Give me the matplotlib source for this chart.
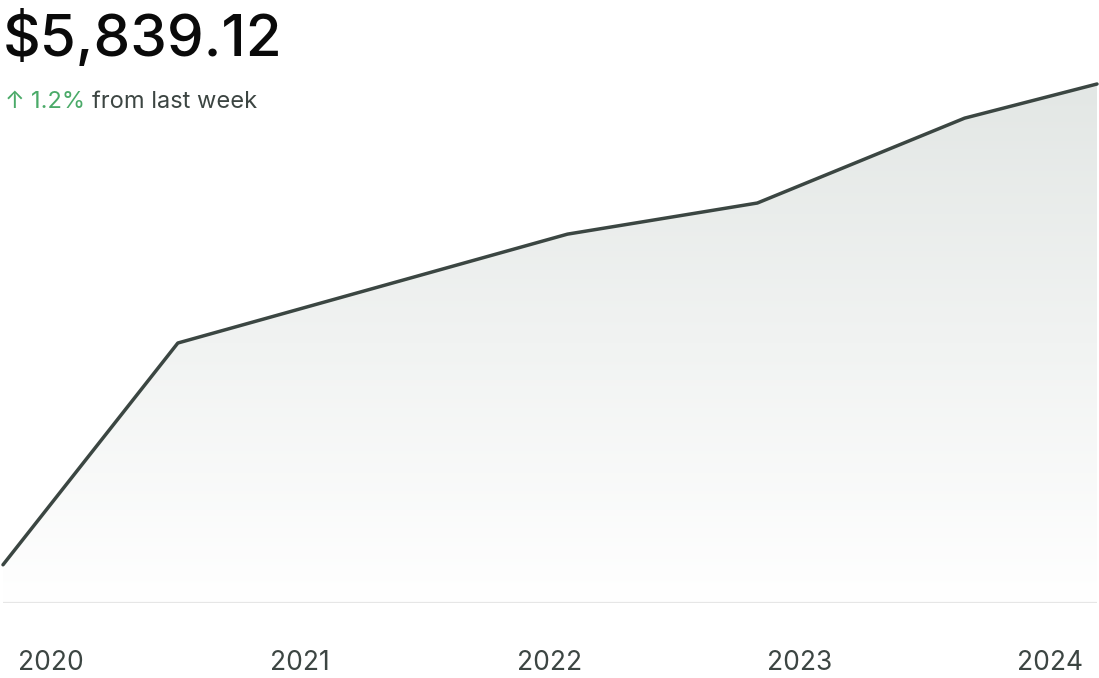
import matplotlib.pyplot as plt
import numpy as np
from matplotlib.patches import Polygon

# data (decimal years, value)
years = [2019.81, 2020.51, 2022.07, 2022.83, 2023.66, 2024.19]
values = [430, 2925, 4150, 4500, 5455, 5839.12]
tick_years = [2020, 2021, 2022, 2023, 2024]
tick_labels = ["2020", "2021", "2022", "2023", "2024"]

LINE = "#3b4642"
TEXT = "#3c4542"
GREEN = "#4aaa68"
FONT = ["Inter", "DejaVu Sans"]

fig = plt.figure(figsize=(10.99, 6.78), dpi=100)
W, H = 1099, 678
ax = fig.add_axes([3 / W, 75 / H, 1094 / W, (603 - 84) / H])
ax.set_xlim(years[0], years[-1])
ax.set_ylim(0, max(values))

# gradient fill under the line
grad = np.linspace(1, 0, 256).reshape(-1, 1)
top = np.array([0xe3, 0xe7, 0xe5]) / 255
img = np.ones((256, 1, 3)) * (1 - grad[..., None]) + top * grad[..., None]
im = ax.imshow(img, extent=[years[0], years[-1], 0, max(values)],
               aspect="auto", origin="upper", zorder=1)
poly = Polygon(list(zip(years, values)) + [(years[-1], 0), (years[0], 0)],
               closed=True, transform=ax.transData, facecolor="none", edgecolor="none")
ax.add_patch(poly)
im.set_clip_path(poly)

ax.plot(years, values, color=LINE, lw=2.5, solid_joinstyle="round",
        solid_capstyle="round", clip_on=False, zorder=3)
ax.axhline(0, color="#e6e6e6", lw=1.6, zorder=2)

for s in ax.spines.values():
    s.set_visible(False)
ax.set_yticks([])
ax.set_xticks(tick_years)
ax.set_xticklabels(tick_labels, family=FONT, fontsize=19, color=TEXT)
ax.tick_params(axis="x", length=0, pad=34)

# header
fig.text(3 / W, 1 - 39 / H, "$5,839.12", family=FONT, fontsize=42,
         fontweight="medium", color="#0a0a0a", va="center", ha="left")

fig.canvas.draw()
r = fig.canvas.get_renderer()
x = 5 / W
y = 1 - 102 / H
for txt, col in [("↑ ", GREEN), ("1.2% ", GREEN), ("from last week", TEXT)]:
    t = fig.text(x, y, txt, family=FONT, fontsize=17, color=col, va="center", ha="left")
    bb = t.get_window_extent(renderer=r)
    x += bb.width / W

fig.savefig("out.png", dpi=100)
